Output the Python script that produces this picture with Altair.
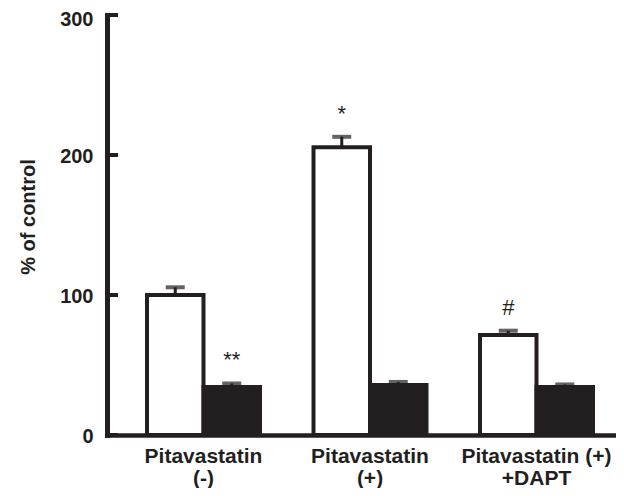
import altair as alt
import pandas as pd

# ---- data ----
groups = ["Pitavastatin|(-)", "Pitavastatin|(+)", "Pitavastatin (+)|+DAPT"]
series = ["open", "filled"]
open_vals = [100, 205.5, 71.5]
open_upper = [105.5, 213, 74.5]
filled_vals = [34.3, 35.7, 34.3]
filled_upper = [36.8, 37.9, 36.1]
open_marks = ["", "*", "#"]
filled_marks = ["**", "", ""]
y_ticks = [0, 100, 200, 300]

rows = []
for i, g in enumerate(groups):
    rows.append(dict(group=g, series="open", value=open_vals[i],
                     upper=open_upper[i], sig=open_marks[i]))
    rows.append(dict(group=g, series="filled", value=filled_vals[i],
                     upper=filled_upper[i], sig=filled_marks[i]))
df = pd.DataFrame(rows)
ticks_df = pd.DataFrame({"t": y_ticks})

INK = "#231f20"
FONT = "Liberation Sans"

x_axis = alt.Axis(title=None, labelAngle=0, labelExpr="split(datum.label, '|')",
                  ticks=False, tickSize=0, labelPadding=10.5, labelFontSize=21,
                  labelFont=FONT, labelFontWeight="bold", labelColor=INK,
                  labelLineHeight=22, labelBaseline="top", domainColor=INK,
                  domainWidth=4.5, domainCap="square", grid=False)
x_scale = alt.Scale(paddingInner=0.3213, paddingOuter=0.1892, align=0.635)
y_axis = alt.Axis(title="% of control", titleFont=FONT, titleFontSize=20,
                  titleFontWeight="bold", titleColor=INK, titleAngle=270,
                  titleX=-79, titleY=201.5, titleAlign="center",
                  titleBaseline="middle", values=y_ticks, ticks=False, tickSize=0,
                  labelPadding=14, labelFont=FONT, labelFontSize=20,
                  labelFontWeight="bold", labelColor=INK,
                  labelOffset={"condition": {"test": "datum.value == 300", "value": 4.5},
                               "value": 1},
                  domainColor=INK, domainWidth=5, domainCap="square", grid=False)
y_scale = alt.Scale(domain=[0, 300], nice=False, zero=True)

X = alt.X("group:N", sort=groups, scale=x_scale, axis=x_axis)
XO = alt.XOffset("series:N", sort=series,
                 scale=alt.Scale(paddingInner=0, paddingOuter=0))

base = alt.Chart(df)

bars = base.mark_bar(stroke=INK, strokeWidth=4).encode(
    x=X, xOffset=XO,
    y=alt.Y("value:Q", scale=y_scale, axis=y_axis),
    color=alt.Color("series:N", scale=alt.Scale(domain=series, range=["#ffffff", INK]),
                    legend=None),
)

stems = base.mark_rule(color=INK, strokeWidth=3).encode(
    x=X, xOffset=XO,
    y=alt.Y("value:Q", scale=y_scale, axis=y_axis),
    y2="upper:Q",
)

caps = base.mark_tick(color=INK, thickness=4, size=19).encode(
    x=X, xOffset=XO,
    y=alt.Y("upper:Q", scale=y_scale, axis=y_axis),
)

sig = base.mark_text(font=FONT, fontSize=22, color=INK, baseline="middle", dy=-23).encode(
    x=X, xOffset=XO,
    y=alt.Y("upper:Q", scale=y_scale, axis=y_axis),
    text="sig:N",
)

yticks = alt.Chart(ticks_df).mark_rule(color=INK, strokeWidth=4).encode(
    y=alt.Y("t:Q", scale=y_scale, axis=y_axis),
    x=alt.value(0), x2=alt.value(11),
)

chart = alt.layer(bars, stems, caps, sig, yticks).properties(
    width=509, height=420,
    autosize=alt.AutoSizeParams(type="none"),
    padding={"left": 99, "top": 7, "right": 0, "bottom": 53},
).configure_view(stroke=None)

chart.save("out.html", embed_options={"renderer": "svg", "actions": False})
